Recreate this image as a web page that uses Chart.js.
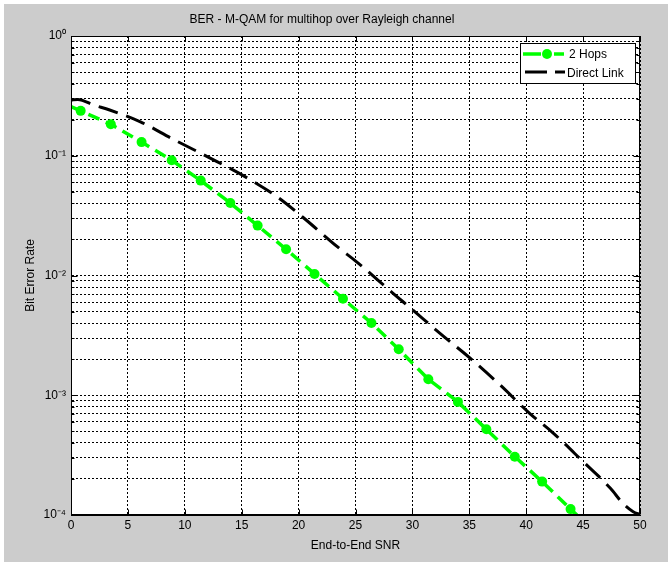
<!DOCTYPE html>
<html><head><meta charset="utf-8">
<script src="https://cdn.jsdelivr.net/npm/chart.js@4"></script>
<style>
html,body{margin:0;padding:0;background:#fff;}
#wrap{position:absolute;left:4px;top:4px;width:664px;height:558px;background:#cccccc;}
canvas{display:block;position:absolute;left:0;top:0;}
</style></head><body>
<div id="wrap"><canvas id="c" width="664" height="558"></canvas></div>
<script>
// ---- data ----
const hopsX = [0, 0.85, 3.5, 6.2, 8.85, 11.4, 14.0, 16.4, 18.9, 21.4, 23.9, 26.4, 28.8, 31.4, 34.0, 36.5, 39.0, 41.4, 43.9, 44.45];
const hopsY = [0.257, 0.237, 0.183, 0.130, 0.0916, 0.0620, 0.0403, 0.0261, 0.01656, 0.01031, 0.0064, 0.00401, 0.00242, 0.00136, 0.00088, 0.00052, 0.000307, 0.000190, 0.000112, 0.0001];
const hopsMarker = [0, 1, 1, 1, 1, 1, 1, 1, 1, 1, 1, 1, 1, 1, 1, 1, 1, 1, 1, 0];
const directX = [0, 0.6, 2.0, 3.4, 6.1, 9.0, 12.1, 15.4, 18.1, 20.4, 23.4, 25.1, 28.3, 30.2, 32.4, 35.1, 37.7, 40.3, 42.4, 45.0, 47.4, 48.5, 49.4, 50];
const directY = [0.292, 0.295, 0.265, 0.241, 0.192, 0.137, 0.097, 0.066, 0.0455, 0.0305, 0.0174, 0.0130, 0.0071, 0.0050, 0.0033, 0.00203, 0.00122, 0.000707, 0.000481, 0.000279, 0.000167, 0.000125, 0.0001066, 0.000101];
const seriesLabels = ['2 Hops', 'Direct Link'];
const xTicks = [0, 5, 10, 15, 20, 25, 30, 35, 40, 45, 50];
const yDecades = [-4, -3, -2, -1, 0];
const titleText = 'BER - M-QAM for multihop over Rayleigh channel';
const xTitle = 'End-to-End SNR';
const yTitle = 'Bit Error Rate';

const FONT = "'Liberation Sans', Arial, Helvetica, sans-serif";
const supMap = {'0':'⁰','1':'¹','2':'²','3':'³','4':'⁴','5':'⁵','6':'⁶','7':'⁷','8':'⁸','9':'⁹','-':'⁻'};
const sup = n => String(n).split('').map(c => supMap[c]).join('');

const framePlugin = {
  id: 'plotFrame',
  beforeDraw(chart) {
    const {ctx, chartArea: a} = chart;
    ctx.save();
    ctx.fillStyle = '#ffffff';
    ctx.fillRect(a.left, a.top, a.right - a.left, a.bottom - a.top);
    ctx.restore();
  },
  afterDatasetsDraw(chart) {
    const {ctx, chartArea: a, scales: {x, y}} = chart;
    ctx.save();
    ctx.setLineDash([]);
    ctx.strokeStyle = '#000';
    ctx.lineWidth = 1;
    const L = Math.round(a.left) + 0.5, R = Math.round(a.right) - 0.5;
    const T = Math.round(a.top) + 0.5, B = Math.round(a.bottom) - 0.5;
    ctx.strokeRect(L, T, R - L, B - T);
    ctx.beginPath();
    x.ticks.forEach(t => {
      const px = Math.round(x.getPixelForValue(t.value)) + 0.5;
      ctx.moveTo(px, B); ctx.lineTo(px, B - 5);
      ctx.moveTo(px, T); ctx.lineTo(px, T + 5);
    });
    y.ticks.forEach(t => {
      const py = Math.round(y.getPixelForValue(t.value)) + 0.5;
      const lg = Math.log10(t.value);
      const len = Math.abs(lg - Math.round(lg)) < 1e-9 ? 6 : 3;
      ctx.moveTo(L, py); ctx.lineTo(L + len, py);
      ctx.moveTo(R, py); ctx.lineTo(R - len, py);
    });
    ctx.stroke();
    ctx.restore();
  },
  afterDraw(chart) {
    const ctx = chart.ctx;
    const ds = chart.data.datasets;
    ctx.save();
    ctx.fillStyle = '#fff';
    ctx.fillRect(516, 39, 116, 40);
    ctx.setLineDash([]);
    ctx.strokeStyle = '#000';
    ctx.lineWidth = 1;
    ctx.strokeRect(516.5, 39.5, 115, 40);
    ctx.font = '12px ' + FONT;
    ctx.textBaseline = 'middle';
    ctx.textAlign = 'left';
    ctx.strokeStyle = ds[0].borderColor;
    ctx.lineWidth = ds[0].borderWidth;
    ctx.beginPath();
    ctx.moveTo(519, 50); ctx.lineTo(537, 50);
    ctx.moveTo(550, 50); ctx.lineTo(560, 50);
    ctx.stroke();
    ctx.fillStyle = ds[0].pointBackgroundColor;
    ctx.beginPath(); ctx.arc(543, 50, 5, 0, Math.PI * 2); ctx.fill();
    ctx.fillStyle = '#000';
    ctx.fillText(ds[0].label, 565, 50.5);
    ctx.strokeStyle = ds[1].borderColor;
    ctx.lineWidth = ds[1].borderWidth;
    ctx.beginPath();
    ctx.moveTo(521, 68); ctx.lineTo(543, 68);
    ctx.moveTo(551, 68); ctx.lineTo(561, 68);
    ctx.stroke();
    ctx.fillStyle = '#000';
    ctx.fillText(ds[1].label, 563, 69.5);
    ctx.restore();
  }
};

const chart = new Chart(document.getElementById('c'), {
  type: 'line',
  data: {
    datasets: [
      {
        label: seriesLabels[0],
        data: hopsX.map((x, i) => ({x, y: hopsY[i]})),
        borderColor: '#00ff00',
        backgroundColor: '#00ff00',
        borderWidth: 3.5,
        borderDash: [12, 7],
        pointRadius: hopsMarker.map(m => m ? 5 : 0),
        pointBackgroundColor: '#00ff00',
        pointBorderColor: '#00ff00',
        pointBorderWidth: 0,
        tension: 0,
        fill: false,
        order: 1
      },
      {
        label: seriesLabels[1],
        data: directX.map((x, i) => ({x, y: directY[i]})),
        borderColor: '#000000',
        backgroundColor: '#000000',
        borderWidth: 3,
        borderDash: [20, 9],
        pointRadius: 0,
        cubicInterpolationMode: 'monotone',
        fill: false,
        order: 2
      }
    ]
  },
  options: {
    responsive: false,
    animation: false,
    devicePixelRatio: 1,
    layout: {padding: {left: 0, right: 28, top: 0, bottom: 0}},
    plugins: {
      legend: {display: false},
      tooltip: {enabled: false},
      title: {
        display: true, text: titleText, color: '#000',
        font: {family: FONT, size: 12, weight: 'normal', lineHeight: 1.2},
        padding: {top: 8, bottom: 9.6}
      }
    },
    scales: {
      x: {
        type: 'linear', min: 0, max: 50,
        afterBuildTicks(s) { s.ticks = xTicks.map(v => ({value: v})); },
        afterFit(s) { s.height = 47; },
        ticks: {color: '#000', font: {family: FONT, size: 12}, padding: 3, maxRotation: 0, autoSkip: false},
        grid: {color: '#000', lineWidth: 1, drawTicks: false},
        border: {display: true, color: '#000', dash: [2, 2]},
        title: {display: true, text: xTitle, color: '#000', font: {family: FONT, size: 12, lineHeight: 1.2}, padding: {top: 0, bottom: 9}}
      },
      y: {
        type: 'logarithmic', min: 1e-4, max: 1,
        afterBuildTicks(s) {
          const t = [];
          for (let i = 0; i < yDecades.length - 1; i++)
            for (let m = 1; m < 10; m++) t.push({value: m * Math.pow(10, yDecades[i])});
          t.push({value: Math.pow(10, yDecades[yDecades.length - 1])});
          s.ticks = t;
        },
        afterFit(s) { s.width = 67; },
        ticks: {
          color: '#000', font: {family: FONT, size: 12}, padding: 5, autoSkip: false,
          callback: v => { const l = Math.log10(v), r = Math.round(l); return Math.abs(l - r) < 1e-9 ? '10' + sup(r) : ''; }
        },
        grid: {color: '#000', lineWidth: 1, drawTicks: false},
        border: {display: true, color: '#000', dash: [2, 2]},
        title: {display: true, text: yTitle, color: '#000', font: {family: FONT, size: 12, lineHeight: 1.2}, padding: {top: 19, bottom: 0}}
      }
    }
  },
  plugins: [framePlugin]
});
</script>
</body></html>
